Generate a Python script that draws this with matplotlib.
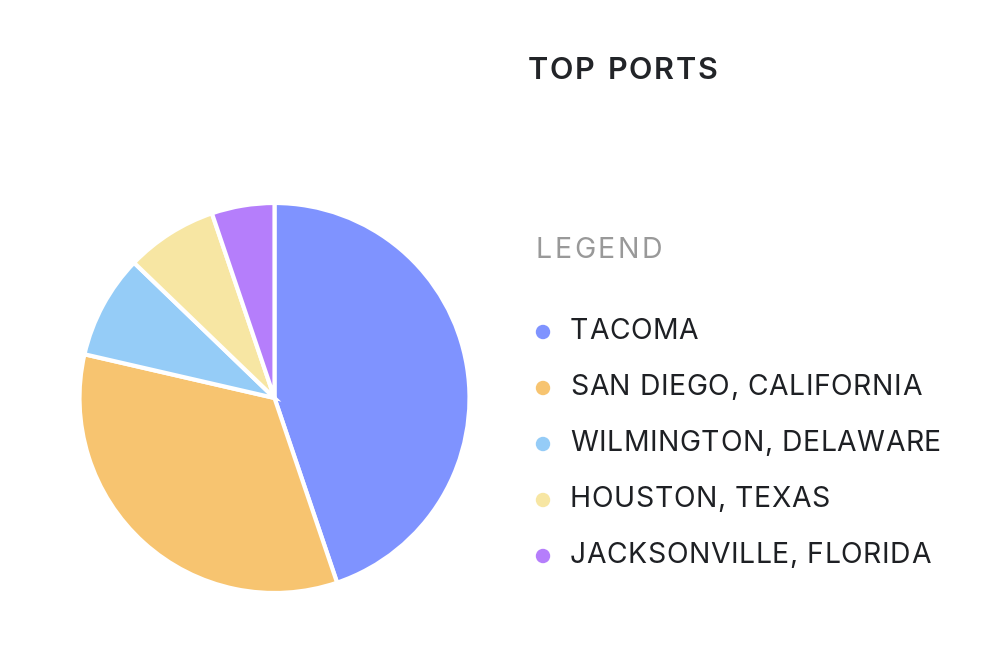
import matplotlib
matplotlib.use("Agg")
import matplotlib.pyplot as plt
from matplotlib.patches import Circle

ports = ["TACOMA", "SAN DIEGO, CALIFORNIA", "WILMINGTON, DELAWARE",
         "HOUSTON, TEXAS", "JACKSONVILLE, FLORIDA"]
shares = [44.8, 33.8, 8.6, 7.6, 5.2]
colors = ["#7F93FF", "#F7C470", "#95CCF7", "#F7E6A3", "#B57EFB"]
title_text = "TOP PORTS"
legend_title = "LEGEND"

plt.rcParams['font.family'] = ['Inter', 'DejaVu Sans']

W, H = 999, 651
fig = plt.figure(figsize=(W / 100, H / 100), dpi=100)
fig.patch.set_facecolor("white")

# Pie axes (pixel geometry)
cx, cy, r = 274.5, 398, 195
pax = fig.add_axes([(cx - r) / W, (H - cy - r) / H, 2 * r / W, 2 * r / H])
pax.pie(shares, colors=colors, startangle=90, counterclock=False,
        wedgeprops=dict(edgecolor="white", linewidth=3.0))
pax.set_xlim(-1, 1)
pax.set_ylim(-1, 1)
pax.axis("off")

# Overlay axes in pixel coordinates for texts
tax = fig.add_axes([0, 0, 1, 1])
tax.set_xlim(0, W)
tax.set_ylim(H, 0)
tax.axis("off")

renderer = fig.canvas.get_renderer()


def spaced_text(x, y, s, spacing, **kw):
    """Draw text with letter spacing (pixels)."""
    for ch in s:
        if ch == " ":
            t = tax.text(x, y, "n", alpha=0, va="baseline", ha="left", **kw)
            bb = t.get_window_extent(renderer)
            t.remove()
            x += bb.width * 0.5 + spacing
            continue
        t = tax.text(x, y, ch, va="baseline", ha="left", **kw)
        bb = t.get_window_extent(renderer)
        x += bb.width + spacing


spaced_text(528, 79, title_text, 1.7, fontsize=22, fontweight="semibold", color="#222428")
spaced_text(536, 258, legend_title, 2.4, fontsize=20.5, fontweight="normal", color="#999999")

baselines = [339, 395, 451, 507, 563]
for name, col, yb in zip(ports, colors, baselines):
    tax.add_patch(Circle((543, yb - 7), 7.2, color=col, lw=0))
    spaced_text(570, yb, name, 0.55, fontsize=20.4, color="#1E2024")

fig.savefig("out.png", dpi=100, facecolor="white")
